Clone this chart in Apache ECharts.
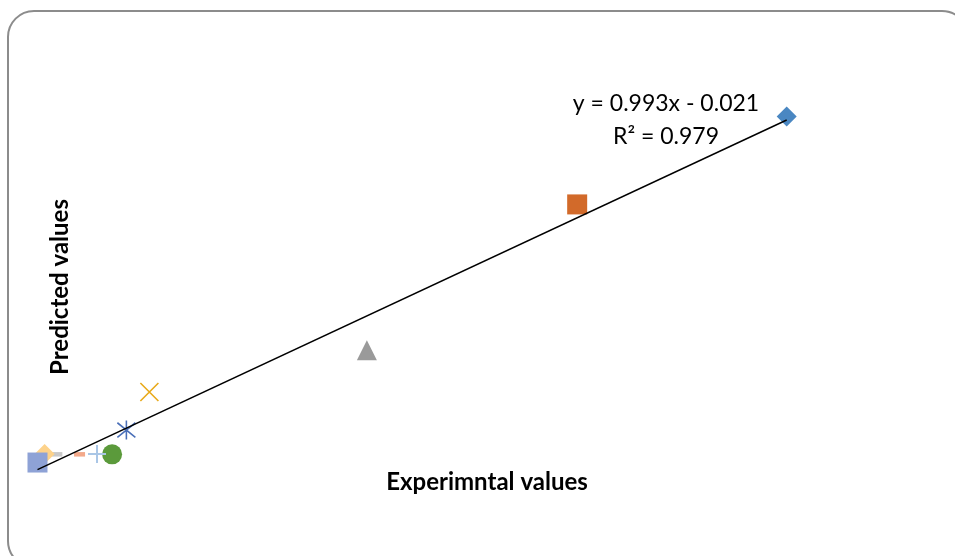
<!DOCTYPE html>
<html>
<head>
<meta charset="utf-8">
<script src="https://cdn.jsdelivr.net/npm/echarts@6/dist/echarts.min.js"></script>
<style>
  html, body { margin: 0; padding: 0; background: #ffffff; }
  #chart { width: 955px; height: 556px; }
</style>
</head>
<body>
<div id="chart"></div>
<script>
// Experimental vs predicted values, one series per sample
const expValues  = [0.950, 0.686, 0.421, 0.147, 0.118, 0.100, 0.081, 0.059, 0.026, 0.015, 0.006];
const predValues = [0.932, 0.696, 0.305, 0.193, 0.091, 0.026, 0.027, 0.026, 0.026, 0.027, 0.004];

// Linear trendline fitted to the points
const trendSlope = 0.993;
const trendIntercept = -0.021;
const rSquared = 0.979;

const xTitle = 'Experimntal values';
const yTitle = 'Predicted values';

// Marker look per series (Office-style marker cycle)
const PATH_X = 'path://M0 0L10 10M10 0L0 10';
const PATH_STAR = 'path://M0 0L10 10M10 0L0 10M5 -1.5L5 11.5';
const PATH_PLUS = 'path://M5 0L5 10M0 5L10 5';
const markerStyles = [
  { symbol: 'diamond',  size: 20, fill: '#4a87c2' },
  { symbol: 'rect',     size: 20, fill: '#d26a2a' },
  { symbol: 'triangle', size: 20, fill: '#9a9a9a' },
  { symbol: PATH_X,     size: 18, stroke: '#e8a91a', lw: 1.6 },
  { symbol: PATH_STAR,  size: [18, 19], stroke: '#4a6fb8', lw: 1.6 },
  { symbol: 'circle',   size: 20, fill: '#5b9a3b' },
  { symbol: PATH_PLUS,  size: 18, stroke: '#a9c6e6', lw: 2 },
  { symbol: 'rect',     size: [11, 4.5], fill: '#f3a98a' },
  { symbol: 'rect',     size: [18, 4.5], fill: '#c8c8c8' },
  { symbol: 'diamond',  size: 20, fill: '#fdd28a' },
  { symbol: 'rect',     size: 20, fill: '#8ea2d6' }
];

const chart = echarts.init(document.getElementById('chart'), null, { renderer: 'canvas' });

const scatterSeries = expValues.map((x, i) => {
  const m = markerStyles[i];
  const itemStyle = m.stroke
    ? { color: 'rgba(0,0,0,0)', borderColor: m.stroke, borderWidth: m.lw, opacity: 1 }
    : { color: m.fill, borderWidth: 0, opacity: 1 };
  return {
    type: 'scatter',
    data: [[x, predValues[i]]],
    symbol: m.symbol,
    symbolSize: m.size,
    symbolKeepAspect: false,
    itemStyle: itemStyle,
    emphasis: { disabled: true },
    silent: true,
    z: 2
  };
});

const xMin = Math.min(...expValues);
const xMax = Math.max(...expValues);
const trendSeries = {
  type: 'line',
  data: [
    [xMin, trendSlope * xMin + trendIntercept],
    [xMax, trendSlope * xMax + trendIntercept]
  ],
  showSymbol: false,
  symbol: 'none',
  lineStyle: { color: '#000000', width: 1.5 },
  silent: true,
  z: 5
};

const fmt = v => v.toFixed(3);
const eqText = 'y = ' + fmt(trendSlope) + 'x ' + (trendIntercept < 0 ? '- ' : '+ ') + fmt(Math.abs(trendIntercept));
const r2Text = 'R² = ' + fmt(rSquared);

const font = 'Lato, "Open Sans", "DejaVu Sans", sans-serif';

chart.setOption({
  animation: false,
  backgroundColor: '#ffffff',
  grid: { left: 32.73, width: 793.65, top: 91.02, height: 410.3, containLabel: false },
  xAxis: {
    type: 'value', min: 0, max: 1,
    axisLine: { show: false }, axisTick: { show: false },
    axisLabel: { show: false }, splitLine: { show: false }
  },
  yAxis: {
    type: 'value', min: -0.1, max: 1.0,
    axisLine: { show: false }, axisTick: { show: false },
    axisLabel: { show: false }, splitLine: { show: false }
  },
  graphic: [
    {
      type: 'rect', z: -10, silent: true,
      shape: { x: 8, y: 11, width: 960, height: 556, r: 26 },
      style: { fill: 'none', stroke: '#8c8c8c', lineWidth: 2 }
    },
    {
      type: 'text', silent: true, x: 487, y: 482,
      style: { text: xTitle, font: 'bold 24px ' + font, fill: '#000000', align: 'center', verticalAlign: 'middle' }
    },
    {
      type: 'text', silent: true, x: 60, y: 287, rotation: Math.PI / 2,
      style: { text: yTitle, font: 'bold 24px ' + font, fill: '#000000', align: 'center', verticalAlign: 'middle' }
    },
    {
      type: 'text', silent: true, x: 666, y: 104,
      style: { text: eqText, font: '23px ' + font, fill: '#000000', align: 'center', verticalAlign: 'middle' }
    },
    {
      type: 'text', silent: true, x: 666, y: 137,
      style: { text: r2Text, font: '23px ' + font, fill: '#000000', align: 'center', verticalAlign: 'middle' }
    }
  ],
  series: scatterSeries.concat([trendSeries])
});
</script>
</body>
</html>
